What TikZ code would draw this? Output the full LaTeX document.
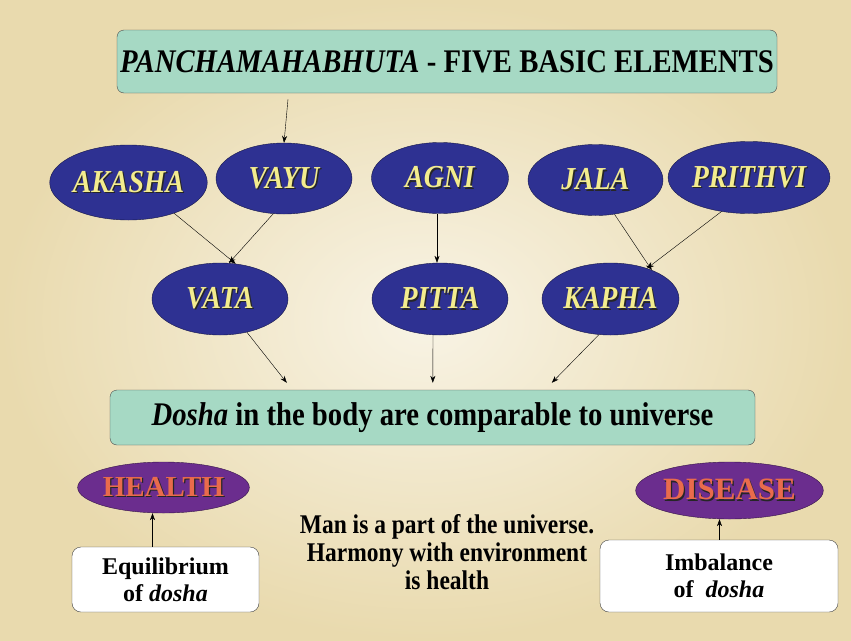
\documentclass[tikz,border=0pt]{standalone}
\usepackage{fontspec}
\setmainfont{Liberation Serif}
\newfontfamily\narrowfont{Liberation Serif}[FakeStretch=0.87]
\usetikzlibrary{positioning,shapes.geometric,arrows.meta}
\definecolor{pcream}{HTML}{EEE2BE}
\definecolor{pcreamdark}{HTML}{E9DAAE}
\definecolor{pmint}{HTML}{A6D9C4}
\definecolor{pnavy}{HTML}{2E3192}
\definecolor{pyellow}{HTML}{F3EC8E}
\definecolor{ppurple}{HTML}{6B2D8E}
\definecolor{pcoral}{HTML}{E96B4C}
\newcommand{\shadowed}[1]{\makebox[0pt][l]{\hspace{1.3pt}\raisebox{-1.3pt}{\textcolor{black!85}{#1}}}#1}

\begin{document}
\begin{tikzpicture}[x=1pt, y=-1pt,
  elem/.style={ellipse, fill=pnavy, draw=pnavy!50!black, text=pyellow, inner sep=0pt,
    font=\narrowfont\fontsize{32}{34}\selectfont\bfseries\itshape, minimum width=136pt, minimum height=71pt},
  band/.style={rectangle, rounded corners=7pt, fill=pmint, draw=black!70, thin, inner sep=0pt,
    font=\narrowfont\fontsize{33}{35}\selectfont\bfseries},
  state/.style={ellipse, fill=ppurple, draw=ppurple!50!black, text=pcoral, inner sep=0pt,
    font=\fontsize{29}{31}\selectfont\bfseries},
  cause/.style={rectangle, rounded corners=9pt, fill=white, draw=black!75, inner sep=0pt,
    align=center, font=\fontsize{24}{27}\selectfont\bfseries},
  arr/.style={-{Stealth[length=7pt,width=5pt]}, thin, color=black}
]
\useasboundingbox (0,0) rectangle (851,640);
\shade[inner color=pcream!40!white, outer color=pcreamdark] (0,0) rectangle (851,640);

% title and elements
\node[band, minimum width=660pt, minimum height=63pt] (title) at (447,61.5)
  {\textit{PANCHAMAHABHUTA} - FIVE BASIC ELEMENTS};
\node[elem, minimum width=137pt, minimum height=75pt] (akasha) at (128.5,182.5) {\shadowed{AKASHA}};
\node[elem] (vayu) at (284,178.5) {\shadowed{VAYU}};
\node[elem, minimum width=137pt] (agni) at (440,178) {\shadowed{AGNI}};
\node[elem, minimum width=135pt] (jala) at (595.5,180) {\shadowed{JALA}};
\node[elem, minimum width=145pt, minimum height=72pt] (prithvi) at (749,177.5) {\shadowed{PRITHVI}};

% doshas
\node[elem, minimum height=72pt] (vata) at (220,299) {\shadowed{VATA}};
\node[elem, minimum height=72pt] (pitta) at (440,299) {\shadowed{PITTA}};
\node[elem, minimum width=137pt, minimum height=72pt] (kapha) at (610.5,299) {\shadowed{KAPHA}};
\node[band, minimum width=645pt, minimum height=55pt] (dosha) at (432.5,417.5)
  {\textit{Dosha} in the body are comparable to universe};

\draw[arr] ([xshift=-159pt,yshift=-6pt]title.south) -- (vayu.north);
\draw[arr] (akasha.-34) -- (vata.66);
\draw[arr] (vayu.253) -- (vata.76);
\draw[arr] ([xshift=-3pt]agni.south) -- ([xshift=-3pt]pitta.north);
\draw[arr] (jala.-61) -- (kapha.35);
\draw[arr] (prithvi.231) -- (kapha.40);
\draw[arr] (vata.-51) -- ([xshift=177pt,yshift=7pt]dosha.north west);
\draw[arr] ([xshift=-7pt]pitta.south) -- ([xshift=323pt,yshift=7pt]dosha.north west);
\draw[arr] (kapha.252) -- ([xshift=442pt,yshift=7pt]dosha.north west);

% health and disease
\node[state, minimum width=165pt, minimum height=51pt] (health) at (163.5,487.5) {\shadowed{HEALTH}};
\node[cause, minimum width=187pt, minimum height=65pt] (equil) at (165.5,579.5) {Equilibrium\\of \textit{dosha}};
\node[state, minimum width=175pt, minimum height=57pt, font=\fontsize{31}{33}\selectfont\bfseries] (disease) at (729.5,490.5) {\shadowed{DISEASE}};
\node[cause, minimum width=238pt, minimum height=72pt] (imbal) at (719,576) {Imbalance\\of~ \textit{dosha}};
\node[align=center, font=\narrowfont\fontsize{27}{28}\selectfont\bfseries] (note) at (447,552)
  {Man is a part of the universe.\\Harmony with environment\\is health};

\draw[arr] ([xshift=-11pt]health.south |- equil.north) -- ([xshift=-11pt]health.south);
\draw[arr] ([xshift=-10pt]disease.south |- imbal.north) -- ([xshift=-10pt]disease.south);
\end{tikzpicture}
\end{document}
